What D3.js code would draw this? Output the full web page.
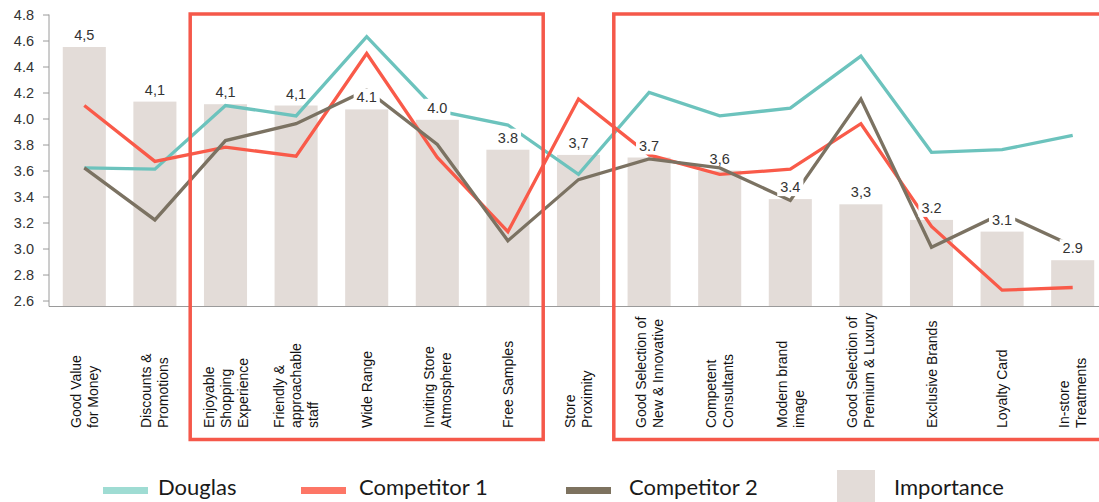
<!DOCTYPE html>
<html>
<head>
<meta charset="utf-8">
<script src="https://cdn.jsdelivr.net/npm/d3@7"></script>
<style>
  html, body { margin: 0; padding: 0; background: #fff; }
  svg { display: block; }
</style>
</head>
<body>
<svg id="chart" width="1099" height="502"></svg>
<script>
const categories = [
  "Good Value\nfor Money",
  "Discounts &\nPromotions",
  "Enjoyable\nShopping\nExperience",
  "Friendly &\napproachable\nstaff",
  "Wide Range",
  "Inviting Store\nAtmosphere",
  "Free Samples",
  "Store\nProximity",
  "Good Selection of\nNew & Innovative",
  "Competent\nConsultants",
  "Modern brand\nimage",
  "Good Selection of\nPremium & Luxury",
  "Exclusive Brands",
  "Loyalty Card",
  "In-store\nTreatments"
];
const importance = [4.55, 4.13, 4.11, 4.10, 4.07, 3.99, 3.76, 3.72, 3.70, 3.60, 3.38, 3.34, 3.22, 3.13, 2.91];
const importanceLabels = ["4,5","4,1","4,1","4,1","4.1","4.0","3.8","3,7","3.7","3,6","3.4","3,3","3.2","3.1","2.9"];
const douglas     = [3.62, 3.61, 4.10, 4.02, 4.63, 4.06, 3.95, 3.57, 4.20, 4.02, 4.08, 4.48, 3.74, 3.76, 3.87];
const competitor1 = [4.10, 3.67, 3.78, 3.71, 4.50, 3.70, 3.13, 4.15, 3.72, 3.57, 3.61, 3.96, 3.17, 2.68, 2.70];
const competitor2 = [3.62, 3.22, 3.83, 3.96, 4.22, 3.80, 3.06, 3.53, 3.69, 3.62, 3.37, 4.15, 3.01, 3.27, 3.02];
const yTicks = [2.6, 2.8, 3.0, 3.2, 3.4, 3.6, 3.8, 4.0, 4.2, 4.4, 4.6, 4.8];
// highlighted category ranges: [first index, last index exclusive]
const highlightGroups = [[2, 7], [8, 15]];
const seriesNames = ["Douglas", "Competitor 1", "Competitor 2", "Importance"];

const colors = {
  douglas: "#6cc3bd",
  comp1: "#f95a49",
  comp2: "#7b7262",
  bar: "#e3dcd8",
  box: "#f5584a",
  legDouglas: "#9fdcd3",
  legComp1: "#fd7666",
  legComp2: "#7d725f"
};

const svg = d3.select("#chart");

const x = d3.scaleBand()
  .domain(categories)
  .range([49, 1108])
  .paddingInner(0.39)
  .paddingOuter(0.195);

const y = d3.scaleLinear()
  .domain([2.554, 4.8])
  .range([306.5, 14.5]);

const cx = i => x(categories[i]) + x.bandwidth() / 2;

// bars
svg.append("g").selectAll("rect")
  .data(importance)
  .join("rect")
  .attr("x", (d, i) => x(categories[i]))
  .attr("width", x.bandwidth())
  .attr("y", d => y(d))
  .attr("height", d => y(2.554) - y(d))
  .attr("fill", colors.bar);

// y axis
const yAxis = d3.axisLeft(y).tickValues(yTicks).tickFormat(d3.format(".1f")).tickSize(6).tickPadding(9);
const gy = svg.append("g").attr("transform", "translate(49,0)").call(yAxis);
gy.select(".domain").attr("stroke", "#9a9a9a").attr("d", "M0," + y(4.8) + "V" + y(2.554));
gy.selectAll(".tick line").attr("stroke", "#9a9a9a");
gy.selectAll(".tick text").attr("fill", "#333").style("font", "14.5px 'Liberation Sans', Arial, sans-serif");

// x baseline
svg.append("line")
  .attr("x1", 49).attr("x2", 1099)
  .attr("y1", y(2.554)).attr("y2", y(2.554))
  .attr("stroke", "#9a9a9a").attr("stroke-width", 1.2);

// lines
const line = d3.line().x((d, i) => cx(i)).y(d => y(d));
[[douglas, colors.douglas], [competitor1, colors.comp1], [competitor2, colors.comp2]].forEach(([data, c]) => {
  svg.append("path")
    .datum(data)
    .attr("d", line)
    .attr("fill", "none")
    .attr("stroke", c)
    .attr("stroke-width", 3.3)
    .attr("stroke-linejoin", "miter");
});

// bar value labels
const lblG = svg.append("g");
importance.forEach((v, i) => {
  const t = importanceLabels[i];
  const g = lblG.append("g");
  const ty = y(v) - 12;
  const txt = g.append("text")
    .attr("x", cx(i))
    .attr("y", ty)
    .attr("text-anchor", "middle")
    .attr("dominant-baseline", "central")
    .attr("fill", "#333")
    .style("font", "14.5px 'Liberation Sans', Arial, sans-serif")
    .text(t);
  if (t.indexOf(".") >= 0) {
    const bb = txt.node().getBBox();
    g.insert("rect", "text")
      .attr("x", bb.x - 3).attr("y", bb.y - 1)
      .attr("width", bb.width + 6).attr("height", bb.height + 2)
      .attr("fill", "#fff");
  }
});

// x labels (rotated)
const xl = svg.append("g");
categories.forEach((c, i) => {
  const lines = c.split("\n");
  const n = lines.length;
  lines.forEach((ln, k) => {
    const px = cx(i) + (k - (n - 1) / 2) * 17;
    xl.append("text")
      .attr("transform", "translate(" + px + ",428) rotate(-90)")
      .attr("text-anchor", "start")
      .attr("dominant-baseline", "central")
      .attr("fill", "#111")
      .style("font", "14px 'Liberation Sans', Arial, sans-serif")
      .text(ln);
  });
});

// highlight boxes
highlightGroups.forEach(([a, b]) => {
  const left = x(categories[a]) - x.step() * x.paddingInner() / 2;
  const right = b < categories.length ? x(categories[b - 1]) + x.bandwidth() + x.step() * x.paddingInner() / 2 : 1140;
  svg.append("rect")
    .attr("x", left)
    .attr("y", y(4.8) - 0.5)
    .attr("width", right - left)
    .attr("height", 440 - y(4.8))
    .attr("fill", "none")
    .attr("stroke", colors.box)
    .attr("stroke-width", 3.5);
});

// legend
const leg = svg.append("g");
const legFont = "22px Lato, 'Open Sans', sans-serif";
const legItems = [
  { name: seriesNames[0], c: colors.legDouglas, sx: 103, tx: 158, type: "line" },
  { name: seriesNames[1], c: colors.legComp1, sx: 301, tx: 359, type: "line" },
  { name: seriesNames[2], c: colors.legComp2, sx: 566, tx: 629, type: "line" },
  { name: seriesNames[3], c: colors.bar, sx: 837, tx: 894, type: "box" }
];
legItems.forEach(it => {
  if (it.type === "line") {
    leg.append("rect").attr("x", it.sx).attr("y", 487).attr("width", 45).attr("height", 7).attr("fill", it.c);
  } else {
    leg.append("rect").attr("x", it.sx).attr("y", 470).attr("width", 38).attr("height", 32).attr("fill", it.c);
  }
  leg.append("text")
    .attr("x", it.tx).attr("y", 495)
    .attr("fill", "#1a1a1a")
    .style("font", legFont)
    .text(it.name);
});
</script>
</body>
</html>
